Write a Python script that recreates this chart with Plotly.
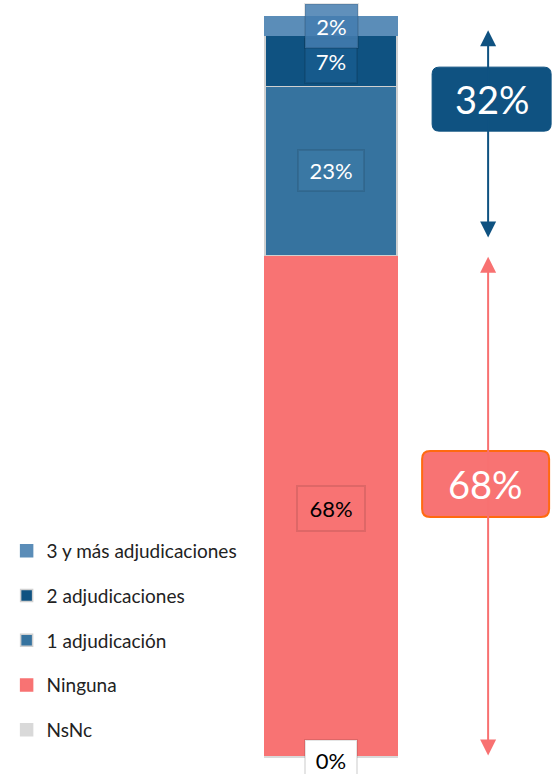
import plotly.graph_objects as go

# stacked from bottom to top
categories = ["NsNc", "Ninguna", "1 adjudicación", "2 adjudicaciones", "3 y más adjudicaciones"]
values = [0.2, 67.6, 22.8, 7.0, 2.4]
labels = ["0%", "68%", "23%", "7%", "2%"]
colors = ["#D9D9D9", "#F87373", "#36739F", "#0F5281", "#5B8DB8"]
box_colors = ["#FFFFFF", "#F87373", "#3A78A4", "#165A8C", "rgba(68,125,175,0.85)"]
text_colors = ["#000000", "#000000", "#FFFFFF", "#FFFFFF", "#FFFFFF"]
edge_colors = ["#D9D9D9", "#F87373", "#D0D0D0", "#D0D0D0", "#5B8DB8"]

group_labels = ["32%", "68%"]

FONT = "Lato"

fig = go.Figure()

for i, cat in enumerate(categories):
    fig.add_trace(
        go.Bar(
            x=[0],
            y=[values[i]],
            width=[1],
            name=cat,
            legendgroup=cat,
            legendrank=100 - i,
            marker=dict(color=colors[i], line=dict(color=edge_colors[i], width=1.5)),
            hoverinfo="skip",
        )
    )

# value labels in boxes
box_w = [48, 64, 62, 48, 49]
box_h = [36, 41, 37, 40, 40]
annotations = []
bottom = 0
for i, v in enumerate(values):
    mid = bottom + v / 2
    bottom += v
    yshift = -4 if i == 0 else (-3 if i == 1 else 0)
    annotations.append(
        dict(
            x=0,
            y=mid,
            xref="x",
            yref="y",
            text=labels[i],
            showarrow=False,
            font=dict(family=FONT, size=22, color=text_colors[i]),
            bgcolor=box_colors[i],
            bordercolor="rgba(0,0,0,0.10)",
            borderwidth=2,
            width=box_w[i],
            height=box_h[i],
            yshift=yshift,
        )
    )

total = sum(values)
none_top = values[0] + values[1]

BLUE = "#0F5281"
RED = "#F87171"
ARROW_X = 1.19

# double headed arrows
annotations.append(
    dict(
        x=ARROW_X, y=total - 1.8, ax=ARROW_X, ay=none_top + 2.2,
        xref="x", yref="y", axref="x", ayref="y",
        text="", showarrow=True, arrowside="end+start",
        arrowhead=2, startarrowhead=2, arrowsize=1.6, startarrowsize=1.6,
        arrowwidth=2, arrowcolor=BLUE, standoff=0, startstandoff=0,
    )
)
annotations.append(
    dict(
        x=ARROW_X, y=none_top - 0.2, ax=ARROW_X, ay=0,
        xref="x", yref="y", axref="x", ayref="y",
        text="", showarrow=True, arrowside="end+start",
        arrowhead=2, startarrowhead=2, arrowsize=1.6, startarrowsize=1.6,
        arrowwidth=2, arrowcolor=RED, standoff=0, startstandoff=0,
    )
)


def rounded(x0, y0, x1, y1, r):
    return (
        f"M{x0 + r},{y0} L{x1 - r},{y0} Q{x1},{y0} {x1},{y0 + r} "
        f"L{x1},{y1 - r} Q{x1},{y1} {x1 - r},{y1} L{x0 + r},{y1} "
        f"Q{x0},{y1} {x0},{y1 - r} L{x0},{y0 + r} Q{x0},{y0} {x0 + r},{y0} Z"
    )


blue_y = 88.9
red_y = 36.9
shapes = [
    dict(
        type="path", xref="x", yref="y", xsizemode="pixel", ysizemode="pixel",
        xanchor=ARROW_X, yanchor=blue_y,
        path=rounded(-56, -32, 63, 32, 7),
        fillcolor=BLUE, line=dict(color=BLUE, width=1), layer="above",
    ),
    dict(
        type="path", xref="x", yref="y", xsizemode="pixel", ysizemode="pixel",
        xanchor=ARROW_X, yanchor=red_y,
        path=rounded(-66, -33, 61, 33, 8),
        fillcolor="#F87373", line=dict(color="#FF6A10", width=2), layer="above",
    ),
]

annotations.append(
    dict(x=ARROW_X, y=blue_y, xref="x", yref="y", text=group_labels[0], showarrow=False,
         xshift=4, font=dict(family=FONT, size=38, color="#FFFFFF"))
)
annotations.append(
    dict(x=ARROW_X, y=red_y, xref="x", yref="y", text=group_labels[1], showarrow=False,
         xshift=-3, font=dict(family=FONT, size=38, color="#FFFFFF"))
)

fig.update_layout(
    width=552,
    height=774,
    margin=dict(l=0, r=0, t=0, b=0, autoexpand=False),
    paper_bgcolor="white",
    plot_bgcolor="white",
    barmode="stack",
    xaxis=dict(range=[-2.508, 1.674], visible=False, fixedrange=True),
    yaxis=dict(range=[-2.297, 102.297], visible=False, fixedrange=True),
    showlegend=True,
    legend=dict(
        x=0.012, y=1 - 532 / 774, xanchor="left", yanchor="top",
        traceorder="grouped", tracegroupgap=17,
        font=dict(family=FONT, size=19, color="#222222"),
        bgcolor="rgba(0,0,0,0)",
    ),
    annotations=annotations,
    shapes=shapes,
)

fig.write_html(
    "out.html",
    config={"displayModeBar": False},
    post_script="document.body.style.margin='0';document.body.style.overflow='hidden';",
)
